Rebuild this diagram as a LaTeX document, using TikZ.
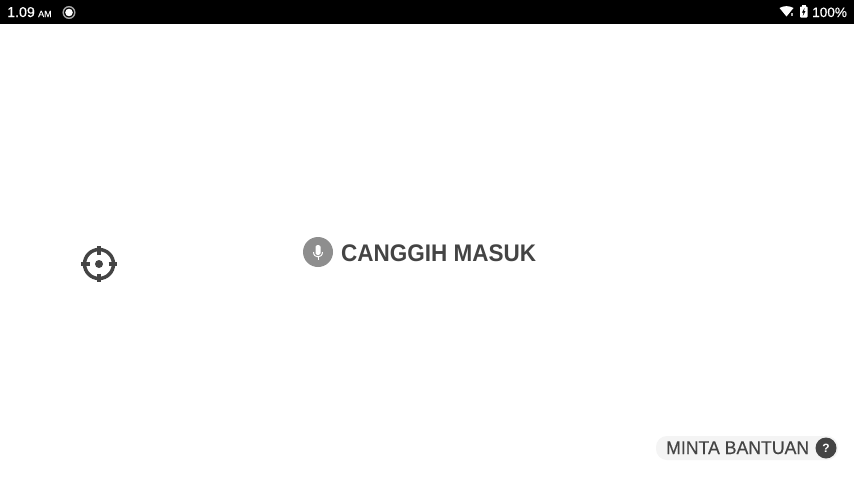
\documentclass[tikz,border=0pt]{standalone}
\usepackage{fontspec}
\setmainfont{Liberation Sans}
\newfontfamily\mediumfont[FakeBold=0.25]{Liberation Sans}
\definecolor{inkgrey}{HTML}{444444}
\definecolor{micgrey}{HTML}{8E8E8E}
\definecolor{pillgrey}{HTML}{F4F4F4}
\tikzset{
	status/.style={text=white, inner sep=0pt, anchor=base west},
	label/.style={text=inkgrey, inner sep=0pt, anchor=base west},
	aimline/.style={draw=inkgrey, line width=3.5pt},
}

\begin{document}
\begin{tikzpicture}[x=1pt, y=-1pt]
	\useasboundingbox (0,0) rectangle (854,480);
	\fill[white] (0,0) rectangle (854,480);
	\fill[black] (0,0) rectangle (854,24);
	
	% status bar
	\node[status, font=\mediumfont\fontsize{14.2}{14}\selectfont] (clock) at (7,17) {1.09};
	\node[status, font=\mediumfont\fontsize{9}{9}\selectfont] (ampm) at (38,17) {AM};
	\draw[white, line width=1.4pt, opacity=.65] (69,12.5) circle (5.8);
	\fill[white] (69,12.5) circle (3.8);
	\fill[white] (779.5,8) .. controls (784,5.5) and (789,5.5) .. (793.5,8) -- (786.5,16.5) -- cycle;
	\fill[black] (789.5,12) rectangle (794,17);
	\fill[white!70!black] (790.5,12.5) rectangle (792.5,15.5);
	\fill[white, rounded corners=.8pt] (800,6.5) rectangle (807.5,17.5);
	\fill[white] (802,5) rectangle (805.5,7);
	\fill[black] (804.5,8) -- (802,12.5) -- (803.5,12.5) -- (802.8,16) -- (805.5,11) -- (804,11) -- cycle;
	\node[status, font=\mediumfont\fontsize{13.6}{14}\selectfont] (battery) at (812,17) {100\%};
	
	% target mark
	\coordinate (aim) at (99,264);
	\draw[aimline] (aim) circle (14.5);
	\fill[inkgrey] (aim) circle (4);
	\foreach \ang in {0,90,180,270}
		\draw[aimline] (aim) ++(\ang:9.5) -- ++(\ang:8.7);
	
	% voice command
	\node[circle, fill=micgrey, minimum size=30pt, inner sep=0pt] (mic) at (318,252) {};
	\fill[white, rounded corners=1.6pt] (315.5,245) rectangle (320.5,255);
	\draw[white, line width=1pt] (313.5,252) .. controls (313.5,258.5) and (322.5,258.5) .. (322.5,252);
	\draw[white, line width=1pt] (318,257) -- (318,260);
	\node[label, font=\bfseries\fontsize{24}{24}\selectfont, xscale=.937] (signin) at (341,261) {CANGGIH MASUK};
	
	% help button
	\fill[pillgrey, rounded corners=11pt] (656,436) rectangle (838,460);
	\node[label, font=\mediumfont\fontsize{18.5}{18.5}\selectfont, xscale=.955] (help) at (666,454) {MINTA BANTUAN};
	\node[circle, fill=inkgrey, minimum size=21pt, inner sep=0pt, text=white, font=\bfseries\fontsize{12}{12}\selectfont] (helpmark) at (826,448) {?};
\end{tikzpicture}
\end{document}
